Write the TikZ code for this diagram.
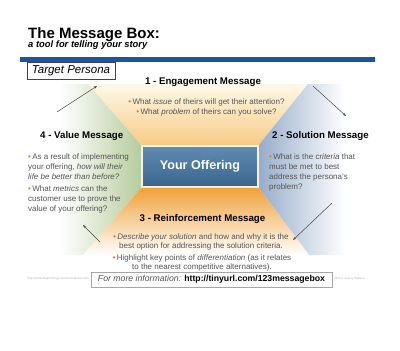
\documentclass[tikz,border=0pt]{standalone}
\usepackage{fontspec}
\setmainfont{Liberation Sans}
\usetikzlibrary{arrows.meta}
\definecolor{txtgray}{RGB}{85,85,85}
\definecolor{bul}{RGB}{232,120,30}
\definecolor{barblue}{RGB}{28,85,155}
\definecolor{barlight}{RGB}{70,130,190}
\definecolor{boxline}{RGB}{60,60,130}
\definecolor{offtop}{RGB}{96,140,180}
\definecolor{offbot}{RGB}{58,100,140}
\definecolor{topc}{RGB}{253,249,232}
\definecolor{topo}{RGB}{247,202,132}
\definecolor{leftg}{RGB}{182,204,156}
\definecolor{rightb}{RGB}{150,172,202}
\definecolor{boto}{RGB}{240,160,55}
\newcommand{\bu}{{\color{bul}•}\,}
\tikzset{
  heading/.style={font=\fontsize{9.7}{11}\selectfont\bfseries, text=black, inner sep=0pt},
  bullets/.style={font=\fontsize{8}{10}\selectfont, text=txtgray, inner sep=0pt, align=left},
  cycarrow/.style={draw={rgb,255:red,70;green,70;blue,70}, line width=0.5pt, -{Stealth[length=3.5pt,width=2.6pt]}}
}
\begin{document}
\begin{tikzpicture}[x=1pt,y=-1pt]
\useasboundingbox (0,0) rectangle (400,351);
\fill[white] (0,0) rectangle (400,351);
% background regions
\shade[top color=topc, bottom color=topo] (88,84) -- (308,84) -- (258,146) -- (142,146) -- cycle;
\shade[left color=white, middle color=leftg!45, right color=leftg] (60,84) -- (88,84) -- (142,146) -- (142,187) -- (83,255) -- (60,255) -- cycle;
\shade[left color=rightb, middle color=rightb!40, right color=white] (308,84) -- (345,84) -- (345,255) -- (309,255) -- (258,187) -- (258,146) -- cycle;
\shade[top color=boto, middle color=boto!55, bottom color=white] (142,187) -- (258,187) -- (309,255) -- (83,255) -- cycle;
% title
\node[anchor=base west, inner sep=0pt, font=\fontsize{15}{18}\selectfont\bfseries] (title) at (28,38) {The Message Box:};
\node[anchor=base west, inner sep=0pt, font=\fontsize{9.4}{11}\selectfont\bfseries\itshape] (subtitle) at (28,47.5) {a tool for telling your story};
% blue bar
\shade[left color=barblue, middle color=barlight, right color=barblue] (20,57) rectangle (375,61);
% target persona
\node[draw=boxline, line width=0.8pt, fill=white, minimum width=88pt, minimum height=17pt, inner sep=0pt, font=\fontsize{11.5}{13}\selectfont\itshape] (persona) at (71,70.5) {Target Persona};
% headings
\node[heading, anchor=base] (h1) at (203,84) {1 - Engagement Message};
\node[heading, anchor=base west] (h4) at (40,138) {4 - Value Message};
\node[heading, anchor=base west] (h2) at (272,138) {2 - Solution Message};
\node[heading, anchor=base] (h3) at (202.5,221) {3 - Reinforcement Message};
% bullets (anchor = baseline of last line)
\node[bullets, align=center, anchor=base] (b1) at (206.5,114) {\bu What \textit{issue} of theirs will get their attention?\\ \bu What \textit{problem} of theirs can you solve?};
\node[bullets, anchor=base west] (b4a) at (28,179) {\bu As a result of implementing\\ your offering, \textit{how will their}\\ \textit{life be better than before?}};
\node[bullets, anchor=base west] (b4b) at (28,211) {\bu What \textit{metrics} can the\\ customer use to prove the\\ value of your offering?};
\node[bullets, anchor=base west] (b2) at (269,189) {\bu What is the \textit{criteria} that\\ must be met to best\\ address the persona's\\ problem?};
\node[bullets, align=center, anchor=base, font=\fontsize{8}{9}\selectfont] (b3a) at (201,248) {\bu \textit{Describe your solution} and how and why it is the\\ best option for addressing the solution criteria.};
\node[bullets, align=center, anchor=base, font=\fontsize{8}{9}\selectfont] (b3b) at (202,269) {\bu Highlight key points of \textit{differentiation} (as it relates\\ to the nearest competitive alternatives).};
% center
\node[shade, top color=offtop, bottom color=offbot, draw={rgb,255:red,250;green,242;blue,225}, line width=1.2pt, minimum width=116pt, minimum height=41pt, inner sep=0pt, text=white, font=\fontsize{12.6}{14}\selectfont\bfseries] (off) at (200,166.5) {Your Offering};
% cycle arrows
\coordinate (a1s) at (57,112); \coordinate (a1e) at (97,86);
\coordinate (a2s) at (313,86); \coordinate (a2e) at (346,116);
\coordinate (a3s) at (332,203); \coordinate (a3e) at (293,240);
\coordinate (a4s) at (100,242); \coordinate (a4e) at (83,225);
\draw[cycarrow] (a1s) -- (a1e);
\draw[cycarrow] (a2s) -- (a2e);
\draw[cycarrow] (a3s) -- (a3e);
\draw[cycarrow] (a4s) -- (a4e);
% footer
\node[draw=gray!70, line width=0.5pt, fill=white, minimum width=241pt, minimum height=15pt, inner sep=0pt] (foot) at (211.5,279.5) {\fontsize{8.7}{10}\selectfont{\color{txtgray}\textit{For more information:}} \textbf{http://tinyurl.com/123messagebox}};
\node[anchor=east, inner sep=0pt, text=gray!60, font=\fontsize{2.9}{3}\selectfont] (fl) at (89,279) {http://marketingthinkingpartners.wordpress.com};
\node[anchor=west, inner sep=0pt, text=gray!60, font=\fontsize{2.9}{3}\selectfont] (fr) at (334,279) {2010 © Aubrey Wallace};
\end{tikzpicture}
\end{document}
